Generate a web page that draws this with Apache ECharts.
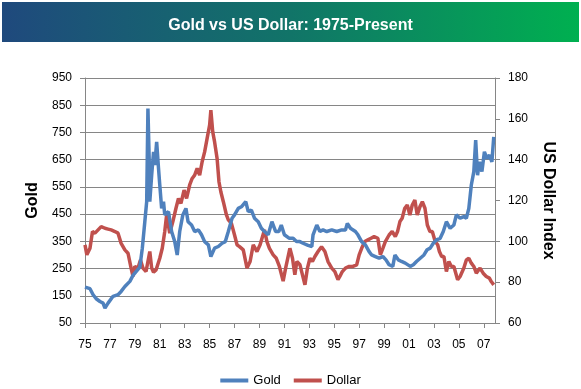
<!DOCTYPE html>
<html><head><meta charset="utf-8">
<script src="https://cdn.jsdelivr.net/npm/echarts@6/dist/echarts.min.js"></script>
<style>html,body{margin:0;padding:0;background:#fff}#c{width:581px;height:389px}</style>
</head><body><div id="c"></div>
<script>
var titleText = 'Gold vs US Dollar: 1975-Present';
var xTickYears = [1975,1977,1979,1981,1983,1985,1987,1989,1991,1993,1995,1997,1999,2001,2003,2005,2007];
var goldLabel = 'Gold';
var dollarLabel = 'Dollar';
var goldYears = [1975.0,1975.4,1975.65,1975.9,1976.2,1976.45,1976.6,1976.85,1977.25,1977.65,1977.9,1978.2,1978.6,1978.85,1979.1,1979.4,1979.6,1979.8,1979.95,1980.05,1980.15,1980.2,1980.35,1980.5,1980.6,1980.75,1980.9,1981.0,1981.15,1981.3,1981.4,1981.7,1981.95,1982.2,1982.4,1982.6,1982.85,1983.1,
1983.27,1983.55,1983.8,1984.1,1984.35,1984.6,1984.9,1985.1,1985.4,1985.7,1986.0,1986.26,1986.5,1986.8,1987.0,1987.3,1987.55,1987.9,1988.1,1988.35,1988.6,1988.9,1989.15,1989.4,1989.7,1990.0,1990.3,1990.55,1990.75,1991.0,1991.4,1991.7,
1991.97,1992.24,1992.5,1992.9,1993.2,1993.3,1993.6,1993.85,1994.1,1994.4,1994.8,1995.2,1995.6,1995.9,1996.05,1996.3,1996.7,1996.9,1997.2,1997.5,1997.8,1998.0,1998.3,1998.6,1998.9,1999.15,1999.4,1999.7,1999.87,
2000.14,2000.4,2000.7,2001.1,2001.35,2001.6,2001.9,2002.2,2002.45,2002.7,2002.95,2003.2,2003.5,2003.75,2004.0,2004.3,2004.6,2004.8,2005.1,2005.4,2005.6,2005.8,2006.0,2006.2,2006.35,2006.5,2006.65,2006.85,2007.05,2007.25,2007.45,2007.65,2007.8];
var goldValues = [182,176,154,139,129,123,105,123,148,154,166,184,203,225,239,255,325,422,496,838,654,496,593,679,630,715,618,557,471,496,447,459,386,349,300,386,447,471,
422,410,386,392,374,349,337,294,325,331,343,349,386,435,447,471,477,496,459,465,435,422,398,386,374,422,386,386,410,374,361,361,
349,349,343,335,331,374,410,386,392,386,392,386,392,392,416,398,386,374,349,337,312,300,294,288,294,282,264,258,300,
282,276,270,258,264,276,288,300,319,325,343,355,361,386,422,398,410,447,435,441,435,471,557,606,722,593,642,606,679,654,667,642,734];
var dollarYears = [1975.0,1975.15,1975.4,1975.6,1975.8,1976.05,1976.3,1976.6,1976.85,1977.1,1977.4,1977.65,1977.9,1978.2,1978.45,1978.7,1978.85,1979.0,1979.25,1979.45,1979.65,1979.9,1980.2,1980.35,1980.5,1980.7,1981.0,1981.2,1981.4,1981.55,1981.8,1982.05,1982.3,1982.5,1982.7,1982.95,1983.15,
1983.4,1983.6,1983.8,1984.0,1984.2,1984.4,1984.6,1984.8,1985.0,1985.1,1985.25,1985.4,1985.6,1985.75,1985.9,1986.1,1986.35,1986.5,1986.75,1987.0,1987.2,1987.4,1987.7,1988.0,1988.25,1988.5,1988.8,1989.05,1989.4,1989.6,1989.8,1990.1,1990.35,1990.6,1990.9,1991.1,1991.44,
1991.65,1991.84,1992.0,1992.25,1992.45,1992.65,1992.85,1993.05,1993.25,1993.45,1993.7,1993.98,1994.25,1994.5,1994.8,1995.05,1995.3,1995.45,1995.65,1995.9,1996.2,1996.5,1996.8,1997.0,1997.2,1997.45,1997.7,1997.95,1998.2,1998.5,1998.7,1998.9,1999.1,1999.4,1999.65,1999.9,
2000.08,2000.27,2000.45,2000.66,2000.86,2001.07,2001.26,2001.47,2001.66,2001.88,2002.07,2002.28,2002.47,2002.68,2002.87,2003.1,2003.3,2003.44,2003.62,2003.8,2004.0,2004.2,2004.4,2004.6,2004.9,2005.1,2005.4,2005.6,2005.8,2006.0,2006.2,2006.4,2006.7,2006.95,2007.2,2007.45,2007.6,2007.8];
var dollarValues = [98.3,93.4,96.6,104.8,104,105.6,107.2,106.4,106,105.6,104.8,104,99,95.8,94.2,86.9,82.8,87.7,86.9,90.9,86.9,85.2,95,86.9,84.9,86,91.7,96.6,104.8,112.9,104,109.7,116.2,121,118.6,125.1,121,
127.6,130.8,132.4,135.7,132.4,139,143.8,150.4,156.9,164.2,153.6,148.7,140.6,129.2,124.3,119.4,112.9,110.5,108.8,103.1,98.3,97.4,95.8,86.9,90.1,98.3,95,98.3,105.6,99.9,96.6,93.4,91.7,87.7,80.5,86.9,96.6,
91.7,83.6,90.1,88.5,83.6,78.7,86.9,91.7,90.1,92.6,95,97.4,95,90.1,86.9,85.2,81.2,82.8,85.2,86.9,87.7,87.7,88.5,93.4,96.6,99.9,100.7,101.5,102.3,101.5,93.4,96.6,99.9,103.1,104.8,102.3,
104.8,109.7,111.3,116.2,117.8,112.9,117.8,120.2,112.9,117,119.4,116.2,108,104.8,104.8,99.9,98.3,95,92.6,92.6,85.2,90.1,87.7,87.7,81.2,82.8,86.9,90.9,91.7,89.3,87.7,84.4,86.9,84.4,82.8,82,80.3,78.7];

function zip(a, b) { var r = []; for (var i = 0; i < a.length; i++) r.push([a[i], b[i]]); return r; }

var FONT = 'Liberation Sans';
var gray = '#868686';
var chart = echarts.init(document.getElementById('c'), null, {renderer: 'canvas'});
chart.setOption({
  animation: false,
  backgroundColor: '#fff',
  graphic: [{
    type: 'rect', left: 2, top: 2, shape: {width: 577, height: 40},
    style: {fill: new echarts.graphic.LinearGradient(0, 0, 1, 0, [
      {offset: 0, color: '#1F497D'}, {offset: 0.5, color: '#117468'}, {offset: 1, color: '#00B050'}])},
    z: 0
  }],
  title: {
    text: titleText, left: 'center', top: 13,
    textStyle: {color: '#fff', fontFamily: FONT, fontWeight: 'bold', fontSize: 16}
  },
  legend: {
    bottom: 2, left: 'center', padding: 0, icon: 'rect', itemWidth: 28, itemHeight: 4, itemGap: 13,
    textStyle: {fontFamily: FONT, fontSize: 13, color: '#000'},
    data: [goldLabel, dollarLabel]
  },
  grid: {left: 85, right: 86, top: 78, bottom: 66, containLabel: false},
  xAxis: {
    type: 'value', min: 1975, max: 2007.9,
    axisLine: {show: true, lineStyle: {color: gray}},
    axisTick: {show: true, length: 5, lineStyle: {color: gray}, customValues: xTickYears},
    axisLabel: {customValues: xTickYears, margin: 16, fontFamily: FONT, fontSize: 12, color: '#000',
      formatter: function (v) { var s = String(Math.round(v) % 100); return s.length < 2 ? '0' + s : s; }},
    splitLine: {show: false}
  },
  yAxis: [{
    type: 'value', min: 50, max: 950, interval: 100, position: 'left',
    name: 'Gold', nameLocation: 'middle', nameGap: 44, nameRotate: 90,
    nameTextStyle: {fontFamily: FONT, fontWeight: 'bold', fontSize: 16, color: '#000'},
    axisLine: {show: true, lineStyle: {color: gray}},
    axisTick: {show: true, length: 5, lineStyle: {color: gray}},
    axisLabel: {margin: 13, fontFamily: FONT, fontSize: 12, color: '#000'},
    splitLine: {show: true, lineStyle: {color: gray, width: 1}}
  }, {
    type: 'value', min: 60, max: 180, interval: 20, position: 'right',
    name: 'US Dollar Index', nameLocation: 'middle', nameGap: 45, nameRotate: -90,
    nameTextStyle: {fontFamily: FONT, fontWeight: 'bold', fontSize: 16, color: '#000'},
    axisLine: {show: true, lineStyle: {color: gray}},
    axisTick: {show: true, length: 5, lineStyle: {color: gray}},
    axisLabel: {margin: 13, fontFamily: FONT, fontSize: 12, color: '#000'},
    splitLine: {show: false}
  }],
  series: [{
    name: goldLabel, type: 'line', yAxisIndex: 0, data: zip(goldYears, goldValues),
    showSymbol: false, symbol: 'none', lineStyle: {color: '#4F81BD', width: 3.5}, itemStyle: {color: '#4F81BD'}, z: 3
  }, {
    name: dollarLabel, type: 'line', yAxisIndex: 1, data: zip(dollarYears, dollarValues),
    showSymbol: false, symbol: 'none', lineStyle: {color: '#C0504D', width: 3.5}, itemStyle: {color: '#C0504D'}, z: 2
  }]
});
</script></body></html>
